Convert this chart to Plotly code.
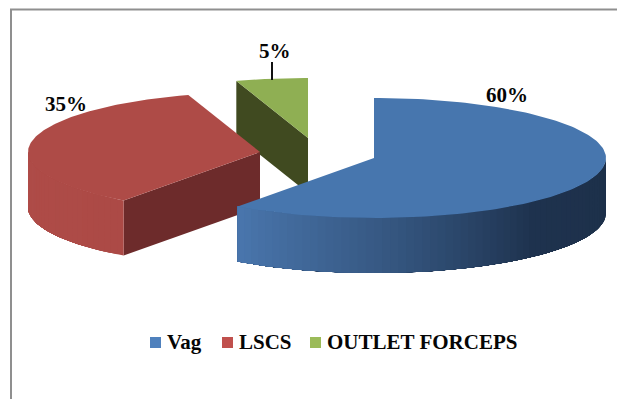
import numpy as np
import plotly.graph_objects as go

# Delivery modes and their shares (per cent)
categories = ["Vag", "LSCS", "OUTLET FORCEPS"]
shares = [60, 35, 5]
value_labels = ["60%", "35%", "5%"]

# Projection of the tilted pie onto the page, in page pixels
RX, RY, DEPTH = 232, 60, 55
centres = {"Vag": (374, 158), "LSCS": (260, 152), "OUTLET FORCEPS": (308, 138)}
top_colours = {"Vag": "#4776AE", "LSCS": "#AE4B47", "OUTLET FORCEPS": "#8FAF53"}
cut_colours = {"LSCS": "#6D2B2B", "OUTLET FORCEPS": "#404A20"}
swatches = {"Vag": "#4F81BD", "LSCS": "#C0504D", "OUTLET FORCEPS": "#9BBB59"}
# Rim shading: (angle clockwise from north, rgb)
rim_stops = {
    "Vag": [(90, (29, 48, 73)), (137, (30, 50, 78)), (174, (52, 85, 126)), (216, (74, 118, 173))],
    "LSCS": [(216, (172, 74, 70)), (270, (175, 76, 72))],
}
FONT = "Liberation Serif"


def point(cx, cy, angle):
    a = np.radians(angle)
    return cx + RX * np.sin(a), cy - RY * np.cos(a)


def polygon(xs, ys, colour):
    return go.Scatter(
        x=list(xs), y=list(ys), mode="lines", fill="toself", fillcolor=colour,
        line=dict(color=colour, width=0),
        hoverinfo="skip", showlegend=False,
    )


def shade(stops, angle):
    angles = [s[0] for s in stops]
    rgb = [np.interp(angle, angles, [s[1][i] for s in stops]) for i in range(3)]
    return "rgb({:.0f},{:.0f},{:.0f})".format(*rgb)


# Angular extent of every slice, clockwise from north
ends = np.cumsum(shares) * 3.6
starts = ends - np.array(shares) * 3.6
extents = {c: (s, e) for c, s, e in zip(categories, starts, ends)}

fig = go.Figure()

# Painted back to front: forceps, then LSCS, then the vaginal slice
for name in ["OUTLET FORCEPS", "LSCS", "Vag"]:
    cx, cy = centres[name]
    start, end = extents[name]

    # Flat cut face along the slice's first radius
    if name in cut_colours:
        ex, ey = point(cx, cy, start)
        fig.add_trace(polygon(
            [cx, ex, ex, cx, cx], [cy, ey, ey + DEPTH, cy + DEPTH, cy], cut_colours[name]))

    # Rim: only the part facing the viewer, split into shaded strips.
    # Each strip is painted from its own edge through to the end of the rim,
    # so neighbouring strips leave no hairline gaps.
    lo, hi = max(start, 90), min(end, 270)
    if name in rim_stops and hi > lo:
        edges = np.linspace(lo, hi, int((hi - lo) / 2) + 1)
        for a0, a1 in zip(edges[:-1], edges[1:]):
            sweep = np.linspace(a0, hi, 60)
            px, py = point(cx, cy, sweep)
            fig.add_trace(polygon(
                np.r_[px, px[::-1], px[0]], np.r_[py, py[::-1] + DEPTH, py[0]],
                shade(rim_stops[name], (a0 + a1) / 2)))

    # Top face
    arc = np.linspace(start, end, 160)
    px, py = point(cx, cy, arc)
    fig.add_trace(polygon(
        np.r_[cx, px, cx], np.r_[cy, py, cy], top_colours[name]))

# Legend row, laid out by hand so the swatches sit tight against their labels
legend_x = [150, 222, 310]
for name, x in zip(categories, legend_x):
    fig.add_trace(go.Scatter(
        x=[x + 5.5], y=[342.5], mode="markers",
        marker=dict(symbol="square", size=11, color=swatches[name], line=dict(width=0)),
        hoverinfo="skip", showlegend=False,
    ))
    fig.add_annotation(
        x=x + 14.5, y=342, text=f"<b>{name}</b>", showarrow=False, xanchor="left", yanchor="middle",
        font=dict(family=FONT, size=21, color="#050505"),
    )

# Percentage labels
label_positions = [(507, 95), (66, 104), (275, 51)]
for text, (x, y) in zip(value_labels, label_positions):
    fig.add_annotation(
        x=x, y=y, text=f"<b>{text}</b>", showarrow=False, xanchor="center", yanchor="middle",
        font=dict(family=FONT, size=21, color="#050505"),
    )

fig.update_layout(
    width=617, height=399, autosize=False,
    margin=dict(l=0, r=0, t=0, b=0),
    paper_bgcolor="white", plot_bgcolor="white",
    showlegend=False,
    xaxis=dict(range=[0, 617], visible=False, fixedrange=True),
    yaxis=dict(range=[399, 0], visible=False, fixedrange=True),
    shapes=[
        # Leader from the 5% label to its slice
        dict(type="line", x0=272, x1=272, y0=62, y1=80, line=dict(color="#111111", width=2)),
        # Partial frame round the chart: top and left edges
        dict(type="line", x0=10, x1=617, y0=9.5, y1=9.5, line=dict(color="#8f8f8f", width=2)),
        dict(type="line", x0=11, x1=11, y0=9, y1=399, line=dict(color="#8f8f8f", width=2)),
    ],
)

fig.write_html("out.html", config=dict(displayModeBar=False))
